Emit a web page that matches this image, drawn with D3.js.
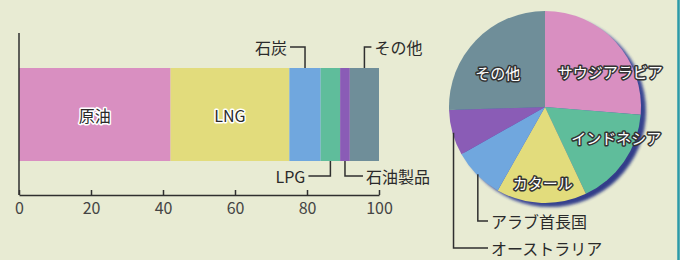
<!DOCTYPE html>
<html><head><meta charset="utf-8">
<script src="https://cdn.jsdelivr.net/npm/d3@7"></script>
<style>
html,body{margin:0;padding:0;background:#e8ebd3;}
svg{display:block;}
text{font-family:"Noto Sans CJK JP","Noto Sans",sans-serif;}
</style></head>
<body>
<svg id="c" width="680" height="260"></svg>
<script>
// ---- data ----
const barCategories = ["原油","LNG","石炭","LPG","石油製品","その他"];
const barValues = [42.1, 33.0, 8.7, 5.4, 2.7, 8.1];
const xTicks = [0, 20, 40, 60, 80, 100];
const pieCategories = ["サウジアラビア","インドネシア","カタール","アラブ首長国","オーストラリア","その他"];
const pieValues = [26.3, 16.7, 15.2, 8.6, 7.7, 25.5];

// ---- styles / layout ----
const barColors = ["#d98fc1","#e2dc7c","#70a7de","#5fbd9b","#8a5cb6","#6f8e99"];
const pieColors = ["#d98fc1","#5fbd9b","#e2dc7c","#70a7de","#8a5cb6","#6f8e99"];
const ink = "#2f2f2f";

const svg = d3.select("#c");
svg.append("rect").attr("width",680).attr("height",260).attr("fill","#e8ebd3");
svg.append("line").attr("x1",678.5).attr("x2",678.5).attr("y1",0).attr("y2",260)
  .attr("stroke","#2b9aa9").attr("stroke-width",2.5);

// ---- bar chart ----
const x = d3.scaleLinear().domain([0,100]).range([19,379]);
const barTop = 68, barBot = 161, axisY = 195;

let cum = 0;
const segs = barValues.map((v,i)=>{ const s={cat:barCategories[i],x0:cum,x1:cum+v,i}; cum+=v; return s; });

svg.append("g").selectAll("rect").data(segs).join("rect")
  .attr("x",d=>x(d.x0)).attr("width",d=>x(d.x1)-x(d.x0))
  .attr("y",barTop).attr("height",barBot-barTop)
  .attr("fill",d=>barColors[d.i]);

// axes
svg.append("line").attr("x1",x(0)).attr("x2",x(0)).attr("y1",33).attr("y2",axisY)
  .attr("stroke",ink).attr("stroke-width",1.5);
const ax = svg.append("g").attr("transform",`translate(0,${axisY})`)
  .call(d3.axisBottom(x).tickValues(xTicks).tickSizeInner(-5).tickSizeOuter(0).tickPadding(8));
ax.select(".domain").attr("stroke",ink).attr("stroke-width",1.5);
ax.selectAll(".tick line").attr("stroke",ink).attr("stroke-width",1.5);
ax.selectAll(".tick text").attr("fill","#444").style("font-size","16px")
  .style("font-family","'Noto Sans CJK JP',sans-serif");

// inside labels
const inside = [0,1];
svg.append("g").selectAll("text").data(segs.filter(d=>inside.includes(d.i))).join("text")
  .attr("x",d=>x((d.x0+d.x1)/2)).attr("y",(barTop+barBot)/2)
  .attr("text-anchor","middle").attr("dominant-baseline","central")
  .attr("fill","#2a2a2a").attr("stroke","#fff").attr("stroke-width",3)
  .attr("paint-order","stroke").attr("stroke-linejoin","round")
  .style("font-size","16px").text(d=>d.cat);

// outside labels with leaders: side top/bottom, label left or right of line
const outside = [
  {i:2, side:"top", dir:"left", ly:47, gap:15},
  {i:3, side:"bottom", dir:"left", ly:176, gap:22},
  {i:4, side:"bottom", dir:"right", ly:176, gap:18},
  {i:5, side:"top", dir:"right", ly:47, gap:7}
];
const lg = svg.append("g");
outside.forEach(o=>{
  const d = segs[o.i];
  const mx = x((d.x0+d.x1)/2);
  const by = o.side==="top" ? barTop : barBot;
  const ex = o.dir==="left" ? mx-o.gap : mx+o.gap;
  lg.append("path").attr("d",`M${mx},${by}V${o.ly}H${ex}`)
    .attr("fill","none").attr("stroke",ink).attr("stroke-width",1.5);
  lg.append("text").attr("x", o.dir==="left" ? ex-3 : ex+3).attr("y",o.ly)
    .attr("text-anchor", o.dir==="left" ? "end" : "start")
    .attr("dominant-baseline","central").attr("fill","#2a2a2a")
    .style("font-size","16px").text(d.cat);
});

// ---- pie ----
const cx = 545, cy = 107, R = 96;
const defs = svg.append("defs");
const rg = defs.append("radialGradient").attr("id","sh").attr("cx","35%").attr("cy","35%").attr("r","70%");
rg.append("stop").attr("offset","60%").attr("stop-color","#3d4fb0");
rg.append("stop").attr("offset","100%").attr("stop-color","#1e2a80");
defs.append("filter").attr("id","bl").append("feGaussianBlur").attr("stdDeviation",1.5);
svg.append("circle").attr("cx",cx+5).attr("cy",cy+4).attr("r",R)
  .attr("fill","url(#sh)").attr("filter","url(#bl)").attr("opacity",0.9);

const pie = d3.pie().sort(null).value(d=>d);
const arcs = pie(pieValues);
const arc = d3.arc().innerRadius(0).outerRadius(R);
const pg = svg.append("g").attr("transform",`translate(${cx},${cy})`);
pg.selectAll("path").data(arcs).join("path")
  .attr("d",arc).attr("fill",(d,i)=>pieColors[i]);

const labelArc = d3.arc().innerRadius(R*0.6).outerRadius(R*0.6);
const pieInside = [
  {i:0, dx:23, dy:4},
  {i:1, dx:24, dy:-2},
  {i:2, dx:0, dy:18},
  {i:5, dx:-6, dy:6}
];
pieInside.forEach(o=>{
  const c = labelArc.centroid(arcs[o.i]);
  pg.append("text").attr("x",c[0]+o.dx).attr("y",c[1]+o.dy)
    .attr("text-anchor","middle").attr("dominant-baseline","central")
    .attr("fill","#fff").attr("stroke","#333").attr("stroke-width",3)
    .attr("paint-order","stroke").attr("stroke-linejoin","round")
    .style("font-size","15px").text(pieCategories[o.i]);
});

const pieOutside = [
  {i:3, ly:221, lx:488},
  {i:4, ly:248, lx:488}
];
pieOutside.forEach(o=>{
  const a = (arcs[o.i].startAngle+arcs[o.i].endAngle)/2;
  const px = cx + Math.sin(a)*(R-1), py = cy - Math.cos(a)*(R-1);
  svg.append("path").attr("d",`M${px},${py}V${o.ly}H${o.lx}`)
    .attr("fill","none").attr("stroke",ink).attr("stroke-width",1.5);
  svg.append("text").attr("x",o.lx+3).attr("y",o.ly).attr("dominant-baseline","central")
    .attr("fill","#2a2a2a").style("font-size","16px").text(pieCategories[o.i]);
});
</script>
</body></html>
